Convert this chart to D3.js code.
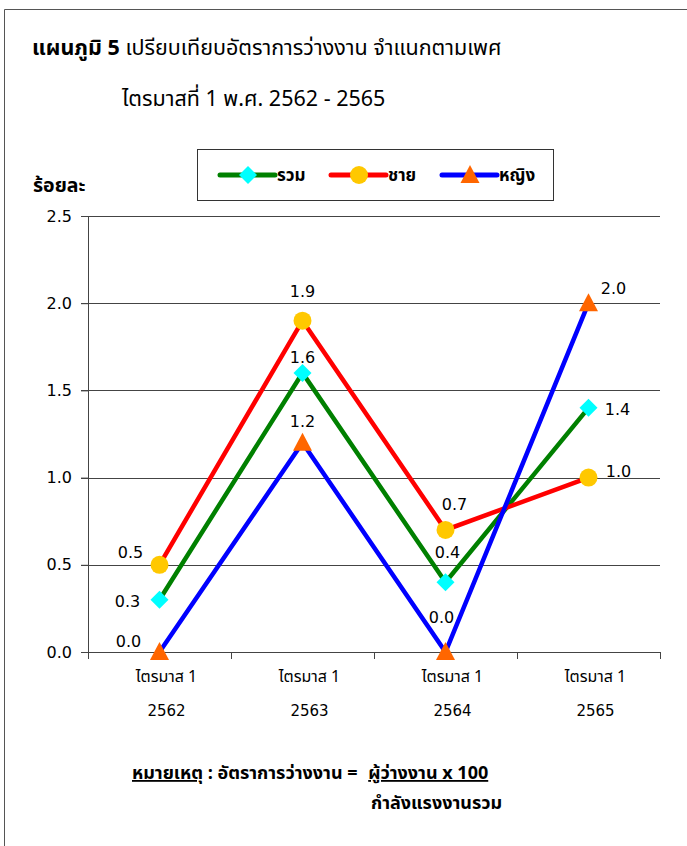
<!DOCTYPE html>
<html>
<head>
<meta charset="utf-8">
<script src="https://cdn.jsdelivr.net/npm/d3@7"></script>
<style>
  body { margin: 0; background: #fff; }
  svg text { font-family: Tahoma, "Noto Sans Thai", "Noto Sans", "DejaVu Sans", sans-serif; fill: #000; }
</style>
</head>
<body>
<svg id="chart" width="687" height="846"></svg>
<script>
// categories (two-line tick labels)
var quarters = ["ไตรมาส 1", "ไตรมาส 1", "ไตรมาส 1", "ไตรมาส 1"];
var years = ["2562", "2563", "2564", "2565"];
var yTicks = [0, 0.5, 1.0, 1.5, 2.0, 2.5];

// series values (ร้อยละ)
var total = [0.3, 1.6, 0.4, 1.4];   // รวม
var male = [0.5, 1.9, 0.7, 1.0];    // ชาย
var female = [0.0, 1.2, 0.0, 2.0];  // หญิง

// custom triangle (a bit wider and taller than d3's equilateral one)
var triangle = {
  draw: function(ctx, size) {
    ctx.moveTo(0, -10);
    ctx.lineTo(9.5, 8);
    ctx.lineTo(-9.5, 8);
    ctx.closePath();
  }
};
// square turned 45 degrees
var diamond = {
  draw: function(ctx, size) {
    ctx.moveTo(0, -9);
    ctx.lineTo(9, 0);
    ctx.lineTo(0, 9);
    ctx.lineTo(-9, 0);
    ctx.closePath();
  }
};

var series = [
  {name: "รวม", values: total, line: "#008000", marker: "#00ffff", shape: diamond,
   labelOff: [[-32, 7], [0, -10], [2, -24], [29, 7]]},
  {name: "ชาย", values: male, line: "#ff0000", marker: "#ffc800", shape: d3.symbolCircle,
   labelOff: [[-29, -7], [0, -24], [9, -20], [30, -1]]},
  {name: "หญิง", values: female, line: "#0000ff", marker: "#ff6600", shape: triangle,
   labelOff: [[-31, -5], [0, -16], [-4, -29], [25, -9]]}
];

var svg = d3.select("#chart");

// outer frame
svg.append("path")
    .attr("d", "M4.5,846 L4.5,9.5 L687,9.5")
    .attr("fill", "none")
    .attr("stroke", "#555")
    .attr("stroke-width", 1);

// title
var title = svg.append("text").attr("x", 32).attr("y", 55).style("font-size", "21.5px");
title.append("tspan").style("font-weight", "bold").text("แผนภูมิ 5");
title.append("tspan").text(" เปรียบเทียบอัตราการว่างงาน จำแนกตามเพศ");
svg.append("text").attr("x", 122).attr("y", 106).style("font-size", "21.5px")
    .text("ไตรมาสที่ 1 พ.ศ. 2562 - 2565");

var margin = {top: 216, left: 88},
    width = 660 - 88,
    height = 652 - 216;

var g = svg.append("g").attr("transform", "translate(" + margin.left + "," + margin.top + ")");

var x = d3.scaleBand().domain(d3.range(years.length)).range([0, width]);
var y = d3.scaleLinear().domain([0, 2.5]).range([height, 0]);

// gridlines
g.append("g")
    .selectAll("line")
    .data(yTicks.filter(function(d) { return d > 0; }))
    .enter().append("line")
    .attr("x1", -7).attr("x2", width)
    .attr("y1", function(d) { return Math.round(y(d)) + 0.5; })
    .attr("y2", function(d) { return Math.round(y(d)) + 0.5; })
    .attr("stroke", "#444").attr("stroke-width", 1);

// y axis
var yAxis = g.append("g")
    .call(d3.axisLeft(y).tickValues(yTicks).tickFormat(d3.format(".1f")).tickSize(7).tickPadding(9));
yAxis.select(".domain").attr("stroke", "#444");
yAxis.selectAll("line").attr("stroke", "#444");
yAxis.selectAll("text").style("font-size", "16px")
    .style("font-family", "Tahoma, 'DejaVu Sans', sans-serif");

// x axis
var xAxis = g.append("g")
    .attr("transform", "translate(0," + height + ")")
    .call(d3.axisBottom(x).tickSize(0).tickFormat(""));
xAxis.select(".domain").attr("stroke", "#444");
g.append("g").attr("transform", "translate(0," + height + ")")
    .selectAll("line")
    .data(d3.range(years.length + 1))
    .enter().append("line")
    .attr("x1", function(d) { return Math.round(d * x.step()) + 0.5; })
    .attr("x2", function(d) { return Math.round(d * x.step()) + 0.5; })
    .attr("y1", 0).attr("y2", 7)
    .attr("stroke", "#444");

// category labels sit a little right of the band centre, as in the original
var xl = g.append("g").attr("transform", "translate(7," + height + ")");
xl.selectAll("text.q")
    .data(quarters)
    .enter().append("text")
    .attr("class", "q")
    .attr("x", function(d, i) { return x(i) + x.bandwidth() / 2; })
    .attr("y", 30)
    .attr("text-anchor", "middle")
    .style("font-size", "16px")
    .text(function(d) { return d; });
xl.selectAll("text.yr")
    .data(years)
    .enter().append("text")
    .attr("class", "yr")
    .attr("x", function(d, i) { return x(i) + x.bandwidth() / 2; })
    .attr("y", 64)
    .attr("text-anchor", "middle")
    .style("font-size", "15px")
    .style("font-family", "Tahoma, 'DejaVu Sans', sans-serif")
    .text(function(d) { return d; });

// y title
svg.append("text").attr("x", 33).attr("y", 192)
    .style("font-size", "19.5px").style("font-weight", "bold")
    .text("ร้อยละ");

var cx = function(d, i) { return x(i) + x.bandwidth() / 2; };
var line = d3.line().x(function(d, i) { return cx(d, i); }).y(function(d) { return y(d); });

// lines
series.forEach(function(s) {
  g.append("path")
      .datum(s.values)
      .attr("d", line)
      .attr("fill", "none")
      .attr("stroke", s.line)
      .attr("stroke-width", 4.5)
      .attr("stroke-linejoin", "miter");
});

// markers
series.forEach(function(s) {
  g.selectAll(null)
      .data(s.values)
      .enter().append("path")
      .attr("d", d3.symbol().type(s.shape).size(254))
      .attr("transform", function(d, i) { return "translate(" + cx(d, i) + "," + y(d) + ")"; })
      .attr("fill", s.marker);
});

// data labels
series.forEach(function(s) {
  g.selectAll(null)
      .data(s.values)
      .enter().append("text")
      .attr("x", function(d, i) { return cx(d, i) + s.labelOff[i][0]; })
      .attr("y", function(d, i) { return y(d) + s.labelOff[i][1]; })
      .attr("text-anchor", "middle")
      .style("font-size", "16px")
      .style("font-family", "Tahoma, 'DejaVu Sans', sans-serif")
      .text(function(d) { return d3.format(".1f")(d); });
});

// legend
var lg = svg.append("g").attr("transform", "translate(197,149)");
lg.append("rect").attr("x", 0.5).attr("y", 0.5).attr("width", 356).attr("height", 51)
    .attr("fill", "#fff").attr("stroke", "#333");
var lx = [23, 134, 245];
series.forEach(function(s, i) {
  var it = lg.append("g").attr("transform", "translate(" + lx[i] + ",26)");
  it.append("line").attr("x1", 0).attr("x2", 55).attr("stroke", s.line).attr("stroke-width", 5)
      .attr("stroke-linecap", "round");
  it.append("path").attr("d", d3.symbol().type(s.shape).size(254))
      .attr("transform", "translate(28,0)")
      .attr("fill", s.marker);
  it.append("text").attr("x", 57).attr("y", 6).style("font-size", "17px").style("font-weight", "bold")
      .text(s.name);
});

// footnote
var fn = svg.append("text").attr("x", 132).attr("y", 779).style("font-size", "18px").style("font-weight", "bold");
fn.append("tspan").style("text-decoration", "underline").text("หมายเหตุ");
fn.append("tspan").text(" : อัตราการว่างงาน = ");
fn.append("tspan").attr("dx", 6).style("text-decoration", "underline").text("ผู้ว่างงาน x 100");
svg.append("text").attr("x", 371).attr("y", 809).style("font-size", "18px").style("font-weight", "bold")
    .text("กำลังแรงงานรวม");
</script>
</body>
</html>
